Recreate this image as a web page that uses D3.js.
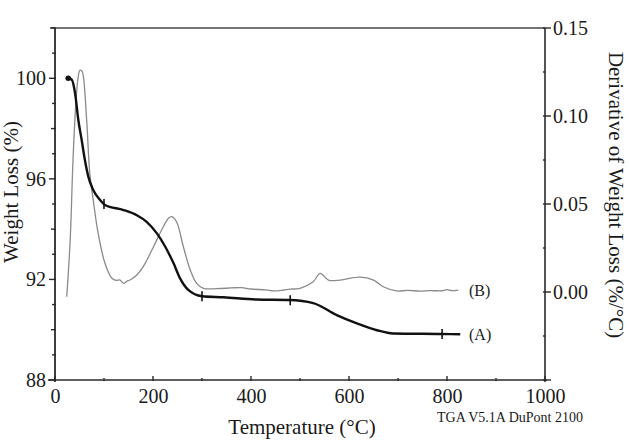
<!DOCTYPE html>
<html>
<head>
<meta charset="utf-8">
<script src="https://cdn.jsdelivr.net/npm/d3@7"></script>
<style>
  html, body { margin: 0; padding: 0; background: #fff; }
  svg { display: block; }
  text { font-family: "Liberation Serif", "Times New Roman", serif; fill: #1a1a1a; }
</style>
</head>
<body>
<svg id="chart" width="630" height="440"></svg>
<script>
// ---- Data ----
const tempA = [27, 34, 41, 47.6, 54.4, 61, 68, 78, 92, 102, 140, 167, 187, 208, 225, 242, 255, 272, 300, 344, 411, 478, 527, 575, 616, 657, 690, 789, 827];
const weightA = [100.0, 99.95, 99.4, 98.34, 97.55, 96.75, 96.09, 95.56, 95.16, 94.96, 94.76, 94.55, 94.29, 93.83, 93.3, 92.64, 92.05, 91.58, 91.33, 91.29, 91.2, 91.18, 91.06, 90.58, 90.25, 89.98, 89.85, 89.83, 89.82];
const markerTempsA = [100, 300, 480, 790];

const tempB = [24, 31, 37, 43, 47, 51, 55, 58, 65, 71, 78, 88, 102, 116, 125, 133, 140, 147, 153, 167, 180, 201, 221, 232, 238, 248, 262, 276, 289, 303, 330, 360, 380, 400, 430, 446, 465, 480, 500, 527, 541, 558, 582, 622, 650, 670, 697, 720, 745, 765, 790, 800, 810, 823];
const derivB = [-0.0027, 0.0295, 0.0769, 0.109, 0.1216, 0.126, 0.1256, 0.1223, 0.0959, 0.0674, 0.0523, 0.0334, 0.0163, 0.0078, 0.0066, 0.0068, 0.0049, 0.0062, 0.0068, 0.0097, 0.0144, 0.0257, 0.0371, 0.0420, 0.0428, 0.0399, 0.0257, 0.0125, 0.0049, 0.0021, 0.0019, 0.0023, 0.0025, 0.0017, 0.0012, 0.0006, 0.0010, 0.0016, 0.0021, 0.0058, 0.0106, 0.0068, 0.0068, 0.0084, 0.0068, 0.0030, 0.0006, 0.0009, 0.0005, 0.0008, 0.0007, 0.0014, 0.0008, 0.0011];

const xTicks = [0, 200, 400, 600, 800, 1000];
const yLeftTicks = [88, 92, 96, 100];
const yRightTicks = [0.00, 0.05, 0.10, 0.15];
const seriesLabels = ["(A)", "(B)"];

// ---- Layout ----
const svg = d3.select("#chart");
const mLeft = 55, mRight = 545, mTop = 28, mBottom = 380;

const x = d3.scaleLinear().domain([0, 1000]).range([mLeft, mRight]);
const yL = d3.scaleLinear().domain([88, 102]).range([mBottom, mTop]);
const yR = d3.scaleLinear().domain([-0.05, 0.15]).range([mBottom, mTop]);

const axisColor = "#2a2a2a";
const serif = '"Liberation Serif", "Times New Roman", serif';

// top frame line
svg.append("line").attr("x1", mLeft - 5).attr("x2", mRight).attr("y1", mTop).attr("y2", mTop)
  .attr("stroke", "#444").attr("stroke-width", 1.6);

// Bottom axis
const gx = svg.append("g").attr("transform", `translate(0,${mBottom})`)
  .call(d3.axisBottom(x).tickValues(xTicks).tickFormat(d3.format("d")).tickSize(0).tickPadding(9));
gx.select(".domain").remove();
gx.selectAll("text").attr("font-size", 20).attr("fill", "#1a1a1a").style("font-family", serif);
svg.append("line").attr("x1", mLeft - 7).attr("x2", mRight + 2).attr("y1", mBottom).attr("y2", mBottom)
  .attr("stroke", axisColor).attr("stroke-width", 1.6);
svg.append("g").selectAll("line").data(d3.range(0, 1001, 100)).join("line")
  .attr("x1", d => x(d)).attr("x2", d => x(d))
  .attr("y1", mBottom + 1).attr("y2", d => mBottom - (d % 200 === 0 ? 4 : 2))
  .attr("stroke", axisColor).attr("stroke-width", 1.4);

// Left axis
const gl = svg.append("g").attr("transform", `translate(${mLeft},0)`)
  .call(d3.axisLeft(yL).tickValues(yLeftTicks).tickFormat(d3.format("d")).tickSize(0).tickPadding(9));
gl.select(".domain").remove();
gl.selectAll("text").attr("font-size", 20).attr("fill", "#1a1a1a").style("font-family", serif);
svg.append("line").attr("x1", mLeft).attr("x2", mLeft).attr("y1", mTop).attr("y2", mBottom + 2)
  .attr("stroke", axisColor).attr("stroke-width", 1.8);
svg.append("g").selectAll("line").data(d3.range(88, 103, 1)).join("line")
  .attr("x1", d => mLeft - (d % 4 === 0 ? 6 : (d % 2 === 0 ? 4 : 3)))
  .attr("x2", mLeft + 1)
  .attr("y1", d => yL(d)).attr("y2", d => yL(d))
  .attr("stroke", axisColor).attr("stroke-width", 1.4);

// Right axis
const gr = svg.append("g").attr("transform", `translate(${mRight},0)`)
  .call(d3.axisRight(yR).tickValues(yRightTicks).tickFormat(d3.format(".2f")).tickSize(0).tickPadding(8));
gr.select(".domain").remove();
gr.selectAll("text").attr("font-size", 20).attr("fill", "#1a1a1a").style("font-family", serif);
svg.append("line").attr("x1", mRight).attr("x2", mRight).attr("y1", mTop).attr("y2", mBottom + 2)
  .attr("stroke", axisColor).attr("stroke-width", 1.6);
svg.append("g").selectAll("line").data(d3.range(-2, 7).map(i => i * 0.025)).join("line")
  .attr("x1", mRight - 2)
  .attr("x2", (d, i) => mRight + (i % 2 === 0 ? 6 : 0))
  .attr("y1", d => yR(d)).attr("y2", d => yR(d))
  .attr("stroke", axisColor).attr("stroke-width", 1.4);

// ---- Curves ----
const lineB = d3.line().x((d, i) => x(tempB[i])).y(d => yR(d)).curve(d3.curveCatmullRom.alpha(0.5));
svg.append("path").datum(derivB).attr("d", lineB)
  .attr("fill", "none").attr("stroke", "#8a8a8a").attr("stroke-width", 1.3);

const lineA = d3.line().x((d, i) => x(tempA[i])).y(d => yL(d)).curve(d3.curveMonotoneX);
svg.append("path").datum(weightA).attr("d", lineA)
  .attr("fill", "none").attr("stroke", "#111").attr("stroke-width", 2.4);

// start dot
svg.append("circle").attr("cx", x(tempA[0])).attr("cy", yL(weightA[0])).attr("r", 2.8).attr("fill", "#111");

// + markers on A
const interpA = t => {
  const i = d3.bisectLeft(tempA, t);
  if (i <= 0) return weightA[0];
  const t0 = tempA[i - 1], t1 = tempA[i];
  return weightA[i - 1] + (weightA[i] - weightA[i - 1]) * (t - t0) / (t1 - t0);
};
svg.append("g").selectAll("line").data(markerTempsA).join("line")
  .attr("x1", d => x(d)).attr("x2", d => x(d))
  .attr("y1", d => yL(interpA(d)) - 5).attr("y2", d => yL(interpA(d)) + 5)
  .attr("stroke", "#111").attr("stroke-width", 1.6);

// series labels
svg.append("text").attr("x", 469).attr("y", yL(weightA[weightA.length - 1])).attr("dy", "0.35em")
  .attr("font-size", 16).text(seriesLabels[0]);
svg.append("text").attr("x", 469).attr("y", yR(derivB[derivB.length - 1])).attr("dy", "0.35em")
  .attr("font-size", 16).text(seriesLabels[1]);

// ---- Titles ----
svg.append("text").attr("transform", "translate(18,192) rotate(-90)")
  .attr("text-anchor", "middle").attr("font-size", 21).text("Weight Loss (%)");
svg.append("text").attr("transform", "translate(609,195) rotate(90)")
  .attr("text-anchor", "middle").attr("font-size", 21).text("Derivative of Weight Loss (%/°C)");
svg.append("text").attr("x", 302).attr("y", 434)
  .attr("text-anchor", "middle").attr("font-size", 21).text("Temperature (°C)");
svg.append("text").attr("x", 437).attr("y", 422)
  .attr("font-size", 14).text("TGA V5.1A DuPont 2100");
</script>
</body>
</html>
